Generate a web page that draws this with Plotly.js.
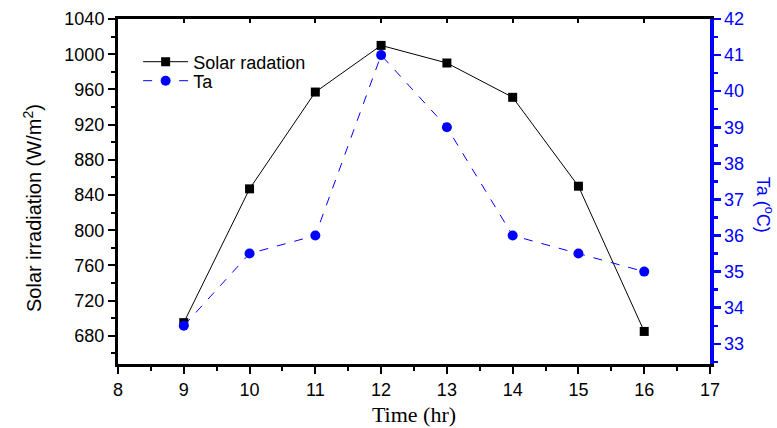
<!DOCTYPE html>
<html>
<head>
<meta charset="utf-8">
<script src="https://cdn.plot.ly/plotly-3.0.1.min.js"></script>
<style>html,body{margin:0;padding:0;background:#fff;}#chart{width:777px;height:428px;}</style>
</head>
<body>
<div id="chart"></div>
<script>
const hours = [9, 10, 11, 12, 13, 14, 15, 16];
const solarRadiation = [695, 847, 957, 1010, 990, 951, 850, 685];
const ambientTemp = [33.5, 35.5, 36, 41, 39, 36, 35.5, 35];
const solarName = 'Solar radation';
const tempName = 'Ta';

const tickFont = {family: 'Liberation Sans, Arial, sans-serif', size: 18, color: '#000'};
const blueTickFont = {family: 'Liberation Sans, Arial, sans-serif', size: 18, color: '#0000ff'};
const legendFont = {family: 'Liberation Sans, Arial, sans-serif', size: 18, color: '#000'};

const traces = [
  {
    x: hours, y: solarRadiation, name: solarName, type: 'scatter', mode: 'lines+markers',
    line: {color: '#000', width: 1},
    marker: {symbol: 'square', size: 9, color: '#000'},
    xaxis: 'x', yaxis: 'y', legend: 'legend'
  },
  {
    x: hours, y: ambientTemp, name: tempName, type: 'scatter', mode: 'lines+markers',
    line: {color: '#0000ff', width: 1, dash: 'dash'},
    marker: {symbol: 'circle', size: 10, color: '#0000ff'},
    xaxis: 'x', yaxis: 'y2', legend: 'legend2'
  },
  {
    x: [null], y: [null], xaxis: 'x2', yaxis: 'y', showlegend: false, hoverinfo: 'skip',
    type: 'scatter', mode: 'markers'
  }
];

const legendBase = {
  xanchor: 'left', yanchor: 'middle',
  bgcolor: 'rgba(0,0,0,0)', borderwidth: 0,
  font: legendFont, itemwidth: 45
};

const layout = {
  width: 777, height: 428,
  margin: {l: 118, r: 67, t: 19, b: 64},
  paper_bgcolor: '#fff', plot_bgcolor: '#fff',
  showlegend: true,
  legend: Object.assign({}, legendBase, {x: 0.034, y: (364 - 62) / 345}),
  legend2: Object.assign({}, legendBase, {x: 0.034, y: (364 - 81) / 345}),
  xaxis: {
    range: [8, 17], dtick: 1, tick0: 8,
    showgrid: false, zeroline: false,
    showline: true, linecolor: '#000', linewidth: 3,
    ticks: 'outside', ticklen: 7, tickwidth: 2, tickcolor: '#000',
    minor: {dtick: 0.5, ticks: 'outside', ticklen: 4, tickwidth: 2, tickcolor: '#000', showgrid: false},
    tickfont: tickFont,
    title: {text: 'Time (hr)', font: {family: 'Liberation Serif, Times New Roman, serif', size: 22, color: '#000'}, standoff: 9}
  },
  xaxis2: {
    range: [8, 17], dtick: 1, tick0: 8, overlaying: 'x', side: 'top', anchor: 'y',
    showgrid: false, zeroline: false, showticklabels: false,
    showline: true, linecolor: '#000', linewidth: 3,
    ticks: 'inside', ticklen: 4, tickwidth: 2, tickcolor: '#000'
  },
  yaxis: {
    range: [648, 1040], dtick: 40, tick0: 0,
    showgrid: false, zeroline: false,
    showline: true, linecolor: '#000', linewidth: 3,
    ticks: 'outside', ticklen: 7, tickwidth: 2, tickcolor: '#000',
    minor: {dtick: 20, ticks: 'outside', ticklen: 4, tickwidth: 2, tickcolor: '#000', showgrid: false},
    tickfont: tickFont
  },
  yaxis2: {
    range: [32.44, 42], dtick: 1, tick0: 0,
    overlaying: 'y', side: 'right', anchor: 'x',
    showgrid: false, zeroline: false,
    showline: true, linecolor: '#0000ff', linewidth: 3.5,
    ticks: 'outside', ticklen: 7, tickwidth: 2.5, tickcolor: '#0000ff',
    minor: {dtick: 0.5, ticks: 'outside', ticklen: 4, tickwidth: 2.5, tickcolor: '#0000ff', showgrid: false},
    tickfont: blueTickFont
  },
  annotations: [
    {
      text: 'Solar irradiation (W/m<sup>2</sup>)', xref: 'paper', yref: 'paper',
      x: (33 - 118) / 592, y: (364 - 208) / 345,
      xanchor: 'center', yanchor: 'middle', textangle: -90, showarrow: false,
      font: {family: 'Liberation Sans, Arial, sans-serif', size: 20, color: '#000'}
    },
    {
      text: 'Ta (<sup>o</sup>C)', xref: 'paper', yref: 'paper', x: 1.092, y: 0.46,
      xanchor: 'center', yanchor: 'middle', textangle: 90, showarrow: false,
      font: {family: 'Liberation Sans, Arial, sans-serif', size: 18, color: '#0000ff'}
    }
  ]
};

Plotly.newPlot('chart', traces, layout, {displayModeBar: false, staticPlot: true});
</script>
</body>
</html>
